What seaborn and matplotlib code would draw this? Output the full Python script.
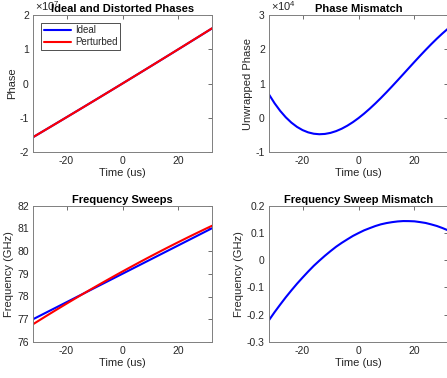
import matplotlib
matplotlib.use("Agg")
import matplotlib.pyplot as plt
import seaborn as sns
import pandas as pd

# time axis (us)
time_us = list(range(-32, 33, 2))

# phases (x 1e7 rad)
phase_ideal = [-1.5683, -1.4714, -1.3744, -1.2773, -1.1800, -1.0825, -0.9849, -0.8871, -0.7892,
               -0.6911, -0.5928, -0.4944, -0.3958, -0.2971, -0.1982, -0.0992, 0.0, 0.0994,
               0.1989, 0.2985, 0.3984, 0.4983, 0.5985, 0.6988, 0.7992, 0.8998, 1.0006,
               1.1015, 1.2026, 1.3038, 1.4052, 1.5068, 1.6085]
phase_perturbed = [-1.5676, -1.4710, -1.3742, -1.2773, -1.1801, -1.0828, -0.9853, -0.8875,
                   -0.7897, -0.6916, -0.5933, -0.4948, -0.3962, -0.2974, -0.1984, -0.0993,
                   0.0, 0.0995, 0.1992, 0.2989, 0.3990, 0.4990, 0.5994, 0.6999, 0.8005,
                   0.9012, 1.0022, 1.1033, 1.2046, 1.3060, 1.4075, 1.5093, 1.6111]

# unwrapped phase mismatch (x 1e4)
phase_mismatch = [0.6800, 0.4224, 0.2006, 0.0129, -0.1422, -0.2662, -0.3605, -0.4268, -0.4665,
                  -0.4813, -0.4724, -0.4415, -0.3901, -0.3198, -0.2320, -0.1283, -0.0101,
                  0.1209, 0.2634, 0.4157, 0.5763, 0.7438, 0.9166, 1.0932, 1.2721, 1.4518,
                  1.6306, 1.8073, 1.9800, 2.1476, 2.3082, 2.4605, 2.6026]

# frequency sweeps (GHz)
freq_ideal = [77.0, 77.125, 77.25, 77.375, 77.5, 77.625, 77.75, 77.875, 78.0, 78.125, 78.25,
              78.375, 78.5, 78.625, 78.75, 78.875, 79.0, 79.125, 79.25, 79.375, 79.5,
              79.625, 79.75, 79.875, 80.0, 80.125, 80.25, 80.375, 80.5, 80.625, 80.75,
              80.875, 81.0]
freq_perturbed = [76.78, 76.934, 77.087, 77.239, 77.389, 77.538, 77.686, 77.833, 77.979,
                  78.123, 78.266, 78.408, 78.549, 78.688, 78.826, 78.964, 79.099, 79.234,
                  79.367, 79.500, 79.631, 79.761, 79.889, 80.017, 80.143, 80.268, 80.392,
                  80.514, 80.636, 80.756, 80.875, 80.993, 81.109]
freq_mismatch = [-0.220, -0.1906, -0.163, -0.1362, -0.111, -0.0867, -0.064, -0.042, -0.021,
                 -0.0021, 0.016, 0.0329, 0.049, 0.0631, 0.076, 0.0885, 0.099, 0.109, 0.117,
                 0.1247, 0.131, 0.1356, 0.139, 0.1416, 0.143, 0.1428, 0.142, 0.1392, 0.136,
                 0.1308, 0.125, 0.1175, 0.109]

sns.set_style("white")
plt.rcParams["font.family"] = ["Liberation Sans", "DejaVu Sans"]
plt.rcParams["mathtext.fontset"] = "custom"
plt.rcParams["mathtext.rm"] = "Liberation Sans"
plt.rcParams["mathtext.it"] = "Liberation Sans"
plt.rcParams["axes.unicode_minus"] = False
plt.rcParams["axes.titley"] = 1.0

grey = "#262626"
W, H = 447, 378

df = pd.DataFrame({
    "t": time_us,
    "phase_ideal": phase_ideal,
    "phase_perturbed": phase_perturbed,
    "phase_mismatch": phase_mismatch,
    "freq_ideal": freq_ideal,
    "freq_perturbed": freq_perturbed,
    "freq_mismatch": freq_mismatch,
})

fig = plt.figure(figsize=(W / 100, H / 100), dpi=100)


def make_ax(x0, y_top, w, y_bot):
    return fig.add_axes([x0 / W, 1 - y_bot / H, w / W, (y_bot - y_top) / H])


def style(ax, title, ylabel, yticks, labels=None, exponent=None):
    ax.set_xlim(-32, 32)
    ax.set_xticks([-20, 0, 20])
    ax.set_xticklabels(["-20", "0", "20"])
    ax.set_ylim(yticks[0], yticks[-1])
    ax.set_yticks(yticks)
    ax.set_yticklabels(labels if labels else ["%g" % v for v in yticks])
    ax.set_title(title, fontsize=8, fontweight="bold", color="black", pad=2)
    ax.set_xlabel("Time (us)", fontsize=8, color=grey, labelpad=1)
    ax.set_ylabel(ylabel, fontsize=8, color=grey, labelpad=2)
    ax.tick_params(direction="in", length=3, width=0.6, labelsize=7.5,
                   colors="#555555", top=True, right=True, pad=3)
    ax.tick_params(axis="both", labelcolor=grey)
    for s in ax.spines.values():
        s.set_color("#7f7f7f")
        s.set_linewidth(0.7)
    if exponent:
        ax.text(0.01, 1.015, r"$\times\mathdefault{10^{%d}}$" % exponent, transform=ax.transAxes,
                ha="left", va="bottom", fontsize=8, color=grey)


ax1 = make_ax(33, 15, 179, 152)
ax2 = make_ax(269, 15, 179, 152)
ax3 = make_ax(33, 205.5, 179, 342)
ax4 = make_ax(269, 205.5, 179, 342)

sns.lineplot(data=df, x="t", y="phase_ideal", ax=ax1, color="#0000ff", lw=1.5, label="Ideal")
sns.lineplot(data=df, x="t", y="phase_perturbed", ax=ax1, color="#ff0000", lw=1.5, label="Perturbed")
style(ax1, "Ideal and Distorted Phases", "Phase", [-2, -1, 0, 1, 2], exponent=7)
leg = ax1.legend(loc="upper left", bbox_to_anchor=(0.045, 0.945), fontsize=7, frameon=True,
                 fancybox=False, edgecolor="black", handlelength=2.8, handletextpad=0.4,
                 borderpad=0.3, labelspacing=0.2, borderaxespad=0)
leg.get_frame().set_linewidth(0.6)
for txt in leg.get_texts():
    txt.set_color(grey)

sns.lineplot(data=df, x="t", y="phase_mismatch", ax=ax2, color="#0000ff", lw=1.5)
style(ax2, "Phase Mismatch", "Unwrapped Phase", [-1, 0, 1, 2, 3], exponent=4)

sns.lineplot(data=df, x="t", y="freq_ideal", ax=ax3, color="#0000ff", lw=1.5)
sns.lineplot(data=df, x="t", y="freq_perturbed", ax=ax3, color="#ff0000", lw=1.5)
style(ax3, "Frequency Sweeps", "Frequency (GHz)", [76, 77, 78, 79, 80, 81, 82])

sns.lineplot(data=df, x="t", y="freq_mismatch", ax=ax4, color="#0000ff", lw=1.5)
style(ax4, "Frequency Sweep Mismatch", "Frequency (GHz)", [-0.3, -0.2, -0.1, 0, 0.1, 0.2])

fig.savefig("out.png", dpi=100)
